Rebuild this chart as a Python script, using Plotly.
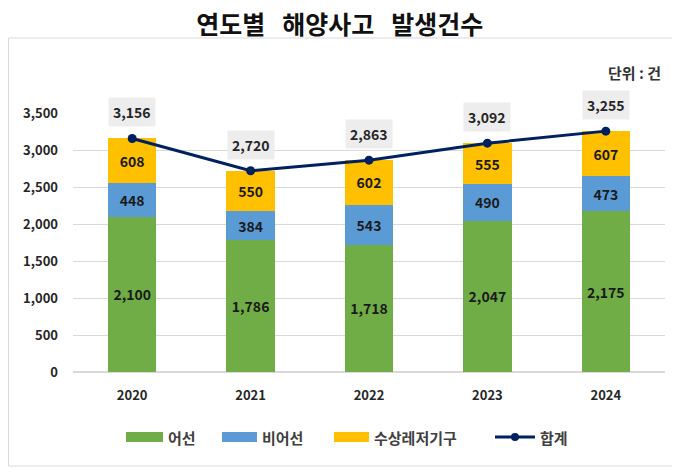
import plotly.graph_objects as go

years = ["2020", "2021", "2022", "2023", "2024"]
fishing = [2100, 1786, 1718, 2047, 2175]
non_fishing = [448, 384, 543, 490, 473]
leisure = [608, 550, 602, 555, 607]
total = [3156, 2720, 2863, 3092, 3255]
y_ticks = [0, 500, 1000, 1500, 2000, 2500, 3000, 3500]
series_names = ["어선", "비어선", "수상레저기구", "합계"]

FONT = "Noto Sans CJK KR"
COLORS = ["#70AD47", "#5B9BD5", "#FFC000", "#002060"]
fig = go.Figure()

def fmt(v):
    return f"{v:,}"

for name, vals, col in zip(series_names[:3], [fishing, non_fishing, leisure], COLORS[:3]):
    fig.add_trace(go.Bar(
        x=years, y=vals, name=name, marker=dict(color=col, line=dict(width=0)),
        text=[f"<b>{fmt(v)}</b>" for v in vals], textposition="inside", insidetextanchor="middle",
        textfont=dict(family=FONT, size=14, color="#1a1a1a"), width=0.41,
        hoverinfo="skip", showlegend=False))

fig.add_trace(go.Scatter(
    x=years, y=total, name=series_names[3], mode="lines+markers",
    line=dict(color=COLORS[3], width=3), marker=dict(color=COLORS[3], size=9),
    cliponaxis=False, showlegend=False))

for i, t in enumerate(total):
    fig.add_annotation(x=i, y=t, text=f"<b>{fmt(t)}</b>", showarrow=False, yshift=26,
                       bgcolor="#EDEDED", borderpad=4,
                       font=dict(family=FONT, size=14, color="#262626"))

fig.add_annotation(xref="paper", yref="paper", x=1.0, y=1.0, yshift=41, xshift=-2,
                   xanchor="right", yanchor="middle",
                   text="<b>단위 : 건</b>", showarrow=False,
                   font=dict(family=FONT, size=15, color="#333333"))

# page coords -> paper coords (plot area spans 73..665 x 113..372 on the page)
L_PX = 73.0
W_PX = 592.0
T_PX = 113.0
H_PX = 259.0
def px(xv):
    return (xv - L_PX) / W_PX
def py(yv):
    return (T_PX + H_PX - yv) / H_PX

# outer chart border
fig.add_shape(type="rect", xref="paper", yref="paper",
              x0=px(8.5), x1=px(678), y0=py(466), y1=py(38),
              line=dict(color="#D9D9D9", width=1), layer="below")

# manual legend (wide swatches like the reference)
swatches = [(126, 163), (222, 257), (334, 369)]
for (a, b), col, name in zip(swatches, COLORS[:3], series_names[:3]):
    fig.add_shape(type="rect", xref="paper", yref="paper", x0=px(a), x1=px(b),
                  y0=py(442), y1=py(432), fillcolor=col, line=dict(width=0))
    fig.add_annotation(xref="paper", yref="paper", x=px(b + 3), y=py(437), xanchor="left",
                       yanchor="middle", text=f"<b>{name}</b>", showarrow=False,
                       font=dict(family=FONT, size=15, color="#404040"))
fig.add_shape(type="line", xref="paper", yref="paper", x0=px(495), x1=px(535),
              y0=py(437), y1=py(437), line=dict(color=COLORS[3], width=3))
fig.add_shape(type="circle", xref="paper", yref="paper", x0=px(511), x1=px(519),
              y0=py(441), y1=py(433), fillcolor=COLORS[3], line=dict(width=0))
fig.add_annotation(xref="paper", yref="paper", x=px(538), y=py(437), xanchor="left",
                   yanchor="middle", text=f"<b>{series_names[3]}</b>", showarrow=False,
                   font=dict(family=FONT, size=15, color="#404040"))

fig.update_layout(
    width=680, height=475, barmode="stack",
    paper_bgcolor="white", plot_bgcolor="white",
    margin=dict(l=65, r=23, t=105, b=111),
    title=dict(text="<b>연도별 &nbsp;&nbsp;해양사고 &nbsp;&nbsp;발생건수</b>", x=0.488, xanchor="center",
               y=0.964, yanchor="middle", font=dict(family=FONT, size=25, color="#111111")),
    font=dict(family=FONT, color="#333333"),
    showlegend=False,
)
fig.update_xaxes(type="category", range=[-0.5, 4.5], showline=False, ticks="",
                 tickfont=dict(family=FONT, size=13, color="#262626"),
                 tickprefix="<b>", ticksuffix="</b>", ticklabelstandoff=14)
fig.update_yaxes(range=[0, 3500], tickvals=y_ticks, ticktext=[f"<b>{fmt(v)}</b>" for v in y_ticks],
                 gridcolor="#D9D9D9", gridwidth=1, zeroline=True, zerolinecolor="#D9D9D9",
                 tickfont=dict(family=FONT, size=13, color="#262626"), ticklabelstandoff=14)

fig.write_html("out.html")
